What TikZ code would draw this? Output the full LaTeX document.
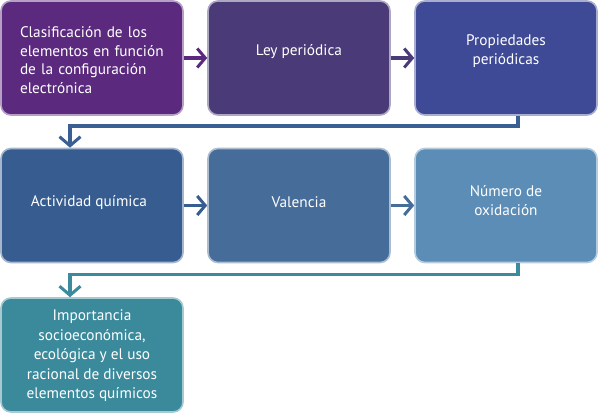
\documentclass[tikz,border=0pt]{standalone}
\usepackage{fontspec}
\setmainfont{PT Sans}
\usetikzlibrary{arrows.meta,calc}
\definecolor{cA}{HTML}{5B2A7E}
\definecolor{cB}{HTML}{4A3B78}
\definecolor{cC}{HTML}{3F4A96}
\definecolor{cD}{HTML}{375C90}
\definecolor{cE}{HTML}{466C99}
\definecolor{cF}{HTML}{5B8DB6}
\definecolor{cG}{HTML}{3A8A9C}
\definecolor{lnA}{HTML}{3A5F93}
\definecolor{lnB}{HTML}{3B8A9E}
\tikzset{
  box/.style={rounded corners=10pt, minimum width=182pt, minimum height=114pt, inner sep=0pt, fill=#1, draw=white!55!#1, line width=1.6pt},
  txt/.style={text=white, font=\fontsize{15.3}{18.5}\selectfont, inner sep=0pt},
  arr/.style={line width=3.5pt, draw=#1, -{Straight Barb[length=8pt,width=19pt,line width=3pt]}},
  conn/.style={line width=3.5pt, draw=#1, -{Straight Barb[length=9pt,width=21pt,line width=3pt]}},
}
\begin{document}
\begin{tikzpicture}[x=1pt,y=-1pt]
\useasboundingbox[fill=white] (0,0) rectangle (598,414);
\node[box=cA] (b1) at (92,58) {};
\node[box=cB] (b2) at (299,58) {};
\node[box=cC] (b3) at (506,58) {};
\node[box=cD] (b4) at (92,205.5) {};
\node[box=cE] (b5) at (299,205.5) {};
\node[box=cF] (b6) at (506,205.5) {};
\node[box=cG] (b7) at (92,355) {};
\node[txt, text width=148pt] (t1) at ($(b1.center)+(2,2)$) {%
\makebox[\linewidth][s]{Clasificación de los}\\
\makebox[\linewidth][s]{elementos en función}\\
\makebox[\linewidth][s]{de la configuración}\\
electrónica};
\node[txt] (t2) at ($(b2.center)+(0,-6)$) {Ley periódica};
\node[txt, align=center] (t3) at ($(b3.center)+(0,-7)$) {Propiedades\\periódicas};
\node[txt] (t4) at ($(b4.center)+(-3,-3)$) {Actividad química};
\node[txt] (t5) at ($(b5.center)+(0,-3)$) {Valencia};
\node[txt, align=center] (t6) at ($(b6.center)+(0,-5)$) {Número de\\oxidación};
\node[txt, align=center, font=\fontsize{15.3}{19.5}\selectfont] (t7) at ($(b7.center)+(0,1)$) {Importancia\\socioeconómica,\\ecológica y el uso\\racional de diversos\\elementos químicos};
\draw[arr=cA] (b1.east) -- (b2.west);
\draw[arr=cB] (b2.east) -- (b3.west);
\draw[arr=cD] (b4.east) -- (b5.west);
\draw[arr=cE] (b5.east) -- (b6.west);
\coordinate (k1) at ($(b3.south)+(12,0)$);
\coordinate (k2) at ($(b4.north)+(-22,0)$);
\draw[conn=lnA] (k1) -- ++(0,10) -| (k2);
\coordinate (k3) at ($(b6.south)+(12,0)$);
\coordinate (k4) at ($(b7.north)+(-22,0)$);
\draw[conn=lnB] (k3) -- ++(0,11) -| (k4);
\end{tikzpicture}
\end{document}
